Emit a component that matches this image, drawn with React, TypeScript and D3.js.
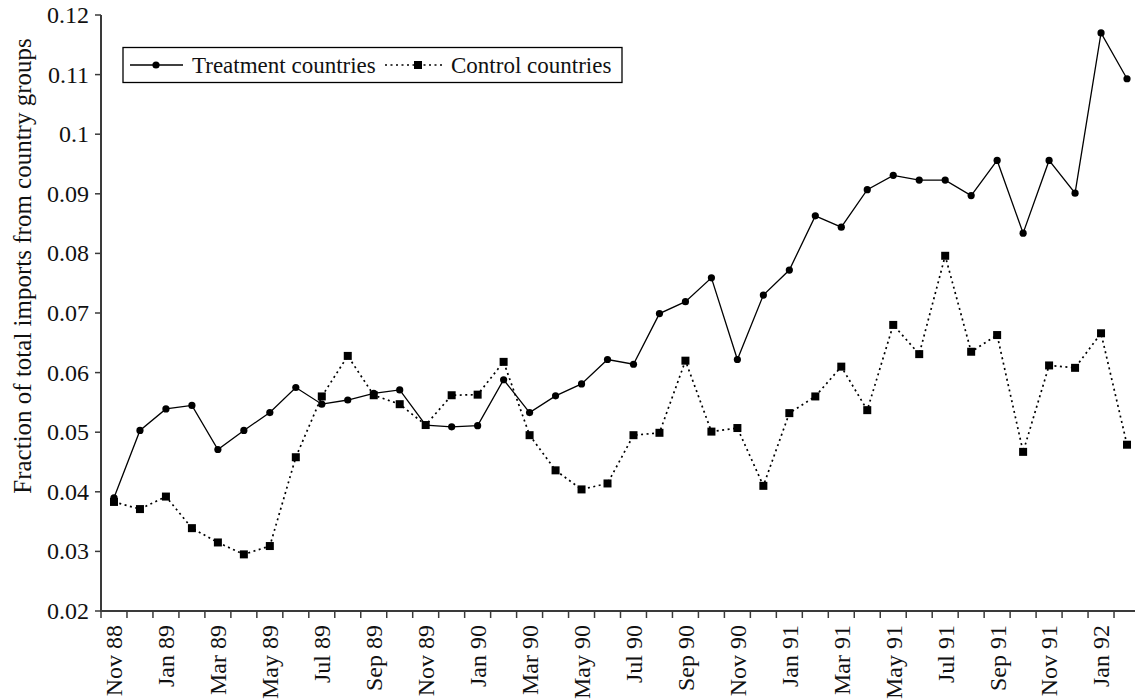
import React from "react";
import * as d3 from "d3";

const months = [
  "Nov 88","Dec 88","Jan 89","Feb 89","Mar 89","Apr 89","May 89","Jun 89","Jul 89","Aug 89",
  "Sep 89","Oct 89","Nov 89","Dec 89","Jan 90","Feb 90","Mar 90","Apr 90","May 90","Jun 90",
  "Jul 90","Aug 90","Sep 90","Oct 90","Nov 90","Dec 90","Jan 91","Feb 91","Mar 91","Apr 91",
  "May 91","Jun 91","Jul 91","Aug 91","Sep 91","Oct 91","Nov 91","Dec 91","Jan 92","Feb 92",
];

const xTickLabels = [
  "Nov 88","Jan 89","Mar 89","May 89","Jul 89","Sep 89","Nov 89","Jan 90","Mar 90","May 90",
  "Jul 90","Sep 90","Nov 90","Jan 91","Mar 91","May 91","Jul 91","Sep 91","Nov 91","Jan 92",
];

const treatment = [
  0.0390, 0.0503, 0.0539, 0.0545, 0.0471, 0.0503, 0.0533, 0.0575, 0.0547, 0.0554,
  0.0565, 0.0571, 0.0512, 0.0509, 0.0511, 0.0588, 0.0533, 0.0561, 0.0581, 0.0622,
  0.0614, 0.0699, 0.0719, 0.0759, 0.0622, 0.0730, 0.0772, 0.0863, 0.0844, 0.0907,
  0.0931, 0.0923, 0.0923, 0.0897, 0.0956, 0.0834, 0.0956, 0.0901, 0.1170, 0.1093,
];

const control = [
  0.0383, 0.0371, 0.0392, 0.0339, 0.0315, 0.0295, 0.0309, 0.0458, 0.0560, 0.0628,
  0.0562, 0.0547, 0.0512, 0.0562, 0.0563, 0.0618, 0.0495, 0.0436, 0.0404, 0.0414,
  0.0495, 0.0499, 0.0620, 0.0501, 0.0507, 0.0410, 0.0532, 0.0560, 0.0610, 0.0537,
  0.0680, 0.0631, 0.0796, 0.0635, 0.0663, 0.0467, 0.0612, 0.0608, 0.0666, 0.0479,
];

const yTicks = [0.02, 0.03, 0.04, 0.05, 0.06, 0.07, 0.08, 0.09, 0.1, 0.11, 0.12];
const yTickLabels = ["0.02","0.03","0.04","0.05","0.06","0.07","0.08","0.09","0.1","0.11","0.12"];

const seriesNames = ["Treatment countries", "Control countries"];
const yTitle = "Fraction of total imports from country groups";

const W = 1135;
const H = 700;
const AXIS = "#3a3a3a";
const CSS = `#impchart text, #impchart .lbl { font-family: "Liberation Serif", "Times New Roman", serif !important; }`;

export default function App() {
  const x = d3.scaleBand<string>().domain(months).range([101, 1140]).padding(0);
  const y = d3.scaleLinear().domain([0.02, 0.12]).range([611, 15]);
  const cx = (m: string) => (x(m) as number) + x.bandwidth() / 2;

  const line = d3
    .line<number>()
    .x((_, i) => cx(months[i]))
    .y((d) => y(d));

  const boundaries = d3.range(months.length + 1).map((k) => 101 + k * x.bandwidth());

  return (
    <svg
      id="impchart"
      width={W}
      height={H}
      style={{ position: "absolute", left: 0, top: 0, background: "#fff" }}
    >
      <style>{CSS}</style>
      <rect x={0} y={0} width={W} height={H} fill="#fff" />
      {/* Y axis */}
      <line x1={101} x2={101} y1={y(0.12)} y2={y(0.02)} stroke={AXIS} strokeWidth={2} />
      {yTicks.map((t, i) => (
        <g key={t}>
          <line x1={95} x2={101} y1={y(t)} y2={y(t)} stroke={AXIS} strokeWidth={1.5} />
          <text className="lbl" x={89} y={y(t)} dy="0.33em" textAnchor="end" fontSize={24} fill="#111">
            {yTickLabels[i]}
          </text>
        </g>
      ))}
      <text
        className="lbl"
        transform={`translate(31, 266) rotate(-90)`}
        textAnchor="middle"
        fontSize={25}
        fill="#111"
      >
        {yTitle}
      </text>

      {/* X axis */}
      <line x1={100} x2={1140} y1={611} y2={611} stroke={AXIS} strokeWidth={2} />
      {boundaries.map((b, i) => (
        <line key={i} x1={b} x2={b} y1={611} y2={618} stroke={AXIS} strokeWidth={1.5} />
      ))}
      {xTickLabels.map((lab) => (
        <text
          className="lbl"
          key={lab}
          transform={`translate(${cx(lab)}, 625) rotate(-90)`}
          textAnchor="end"
          dy="0.35em"
          fontSize={24}
          fill="#111"
        >
          {lab}
        </text>
      ))}

      {/* Treatment series */}
      <path d={line(treatment) || ""} fill="none" stroke="#000" strokeWidth={1.3} />
      {treatment.map((v, i) => (
        <circle key={i} cx={cx(months[i])} cy={y(v)} r={3.6} fill="#000" />
      ))}

      {/* Control series */}
      <path
        d={line(control) || ""}
        fill="none"
        stroke="#000"
        strokeWidth={1.7}
        strokeDasharray="2 3.5"
      />
      {control.map((v, i) => (
        <rect key={i} x={cx(months[i]) - 4} y={y(v) - 4} width={8} height={8} fill="#000" />
      ))}

      {/* Legend */}
      <rect x={123} y={47.5} width={499} height={35} fill="#fff" stroke="#000" strokeWidth={1.3} />
      <line x1={130} x2={183} y1={65} y2={65} stroke="#000" strokeWidth={1.3} />
      <circle cx={156} cy={65} r={3.6} fill="#000" />
      <text className="lbl" x={192} y={65} dy="0.33em" fontSize={23} fill="#111">
        {seriesNames[0]}
      </text>
      <line x1={385} x2={442} y1={65} y2={65} stroke="#000" strokeWidth={1.7} strokeDasharray="2 3.5" />
      <rect x={414} y={61} width={8} height={8} fill="#000" />
      <text className="lbl" x={451} y={65} dy="0.33em" fontSize={23} fill="#111">
        {seriesNames[1]}
      </text>
    </svg>
  );
}
